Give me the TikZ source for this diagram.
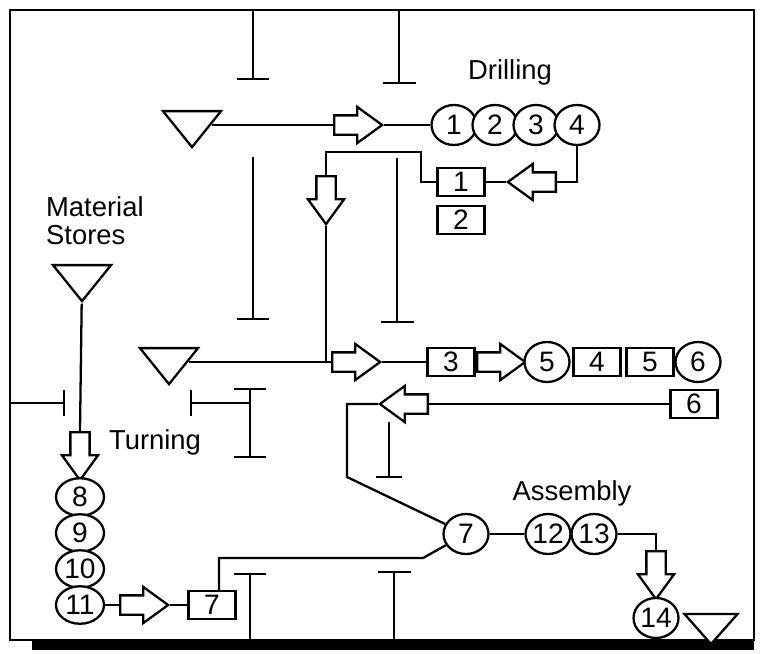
\documentclass[tikz,border=0pt]{standalone}
\usepackage{fontspec}
\setmainfont{Liberation Sans}
\usetikzlibrary{shapes.geometric,shapes.arrows,arrows.meta}

\begin{document}
\begin{tikzpicture}[
      x=0.02cm, y=-0.02cm,
      line width=1.3pt,
      op/.style={ellipse, draw, fill=white, minimum width=0.9cm, minimum height=0.8cm, inner sep=0pt, font=\fontsize{16}{18}\selectfont},
      box/.style={rectangle, draw, fill=white, minimum width=0.94cm, minimum height=0.56cm, inner sep=0pt, font=\fontsize{16}{18}\selectfont},
      flow/.style={single arrow, draw, fill=white, minimum height=0.96cm, inner xsep=0pt, inner ysep=0.17cm, single arrow head extend=0.17cm, single arrow tip angle=72, anchor=tail},
      store/.style={isosceles triangle, isosceles triangle stretches, draw, fill=white, rotate=-90, minimum width=1.16cm, minimum height=0.72cm, inner sep=0pt},
      wall/.style={-{Bar[width=0.66cm]}},
      lbl/.style={font=\fontsize{15.6}{16}\selectfont, inner sep=0pt}
    ]
    \useasboundingbox (0,0) rectangle (761,653);

    % outer frame with shadow
    \draw[line width=1.5pt] (10,10) rectangle (754,640);
    \fill (32,641) rectangle (754,650);

    % drilling
    \node[lbl] (drl) at (510,72) {Drilling};
    \node[store] (s1) at (192,125) {};
    \node[flow] (f1) at (333,125) {};
    \node[op] (d1) at (454,125) {1};
    \node[op] (d2) at (495,125) {2};
    \node[op] (d3) at (536,125) {3};
    \node[op] (d4) at (577,125) {4};
    \node[flow, rotate=180] (f2) at (557,182) {};
    \node[box] (b1) at (461,182) {1};
    \node[box] (b2) at (461,220) {2};
    \node[flow, rotate=-90] (f3) at (326,175) {};
    \coordinate (k1) at (421,152);
    \coordinate (j1) at (326,362);

    % middle line
    \node[store] (s2) at (169,362) {};
    \node[flow] (f4) at (331,362) {};
    \node[box] (b3) at (451,362) {3};
    \node[flow] (f5) at (476,362) {};
    \node[op] (c5) at (547,362) {5};
    \node[box] (b4) at (597,362) {4};
    \node[box] (b5) at (650,362) {5};
    \node[op] (c6) at (698,362) {6};
    \node[box] (b6) at (694,404) {6};
    \node[flow, rotate=180] (f6) at (429,404) {};
    \coordinate (k2) at (347,477);

    % turning
    \node[lbl, anchor=west, align=left] (mat) at (45,221) {Material\\Stores};
    \node[store] (s3) at (82,279) {};
    \node[flow, rotate=-90] (f8) at (80,431) {};
    \node[lbl] (trn) at (155,442) {Turning};
    \node[op, minimum width=0.96cm, minimum height=0.75cm] (t8) at (80,497) {8};
    \node[op, minimum width=0.96cm, minimum height=0.75cm] (t9) at (80,533) {9};
    \node[op, minimum width=0.96cm, minimum height=0.75cm] (t10) at (80,569) {10};
    \node[op, minimum width=0.96cm, minimum height=0.75cm] (t11) at (80,605) {11};
    \node[flow] (f9) at (119,605) {};
    \node[box] (b7) at (212,605) {7};

    % assembly
    \node[lbl] (asm) at (572,493) {Assembly};
    \node[op] (a7) at (466,534) {7};
    \node[op] (a12) at (548,534) {12};
    \node[op] (a13) at (594,534) {13};
    \node[flow, rotate=-90] (f7) at (656,550) {};
    \node[op] (a14) at (656,618) {14};
    \node[store, minimum width=1.06cm, minimum height=0.6cm] (s4) at (711,626) {};
    \coordinate (k3) at (423,558);

    \draw (s1) -- (f1.tail);
    \draw (f1.tip) -- (d1);
    \draw (d4.south) |- (f2.tail);
    \draw (f2.tip) -- (b1.east);
    \draw (b1.west) -| (k1) -| (f3.tail);
    \draw (f3.tip) -- (j1);
    \draw (s2) -- (f4.tail);
    \draw (f4.tip) -- (b3.west);
    \draw (b6.west) -- (f6.tail);
    \draw (f6.tip) -| (k2) -- (a7);
    \draw (a7) -- (k3) -| ([xshift=0.14cm]b7.north);
    \draw (s3) -- (f8.tail);
    \draw (t11) -- (f9.tail);
    \draw (f9.tip) -- (b7.west);
    \draw (a7) -- (a12);
    \draw (a13.east) -| (f7.tail);

    % walls
    \draw[wall] (253,10) -- (253,80);
    \draw[wall] (399,10) -- (399,84);
    \draw[wall] (253,157) -- (253,320);
    \draw[wall] (397,158) -- (397,323);
    \draw[-{Bar[width=0.52cm]}] (10,403) -- (65,403);
    \draw[{Bar[width=0.52cm]}-] (190,403) -- (250,403);
    \draw[{Bar[width=0.66cm]}-{Bar[width=0.66cm]}] (250,388) -- (250,458);
    \draw[-{Bar[width=0.52cm]}] (389,422) -- (389,478);
    \draw[wall] (250,640) -- (250,573);
    \draw[wall] (394,640) -- (394,571);

  \end{tikzpicture}
\end{document}
